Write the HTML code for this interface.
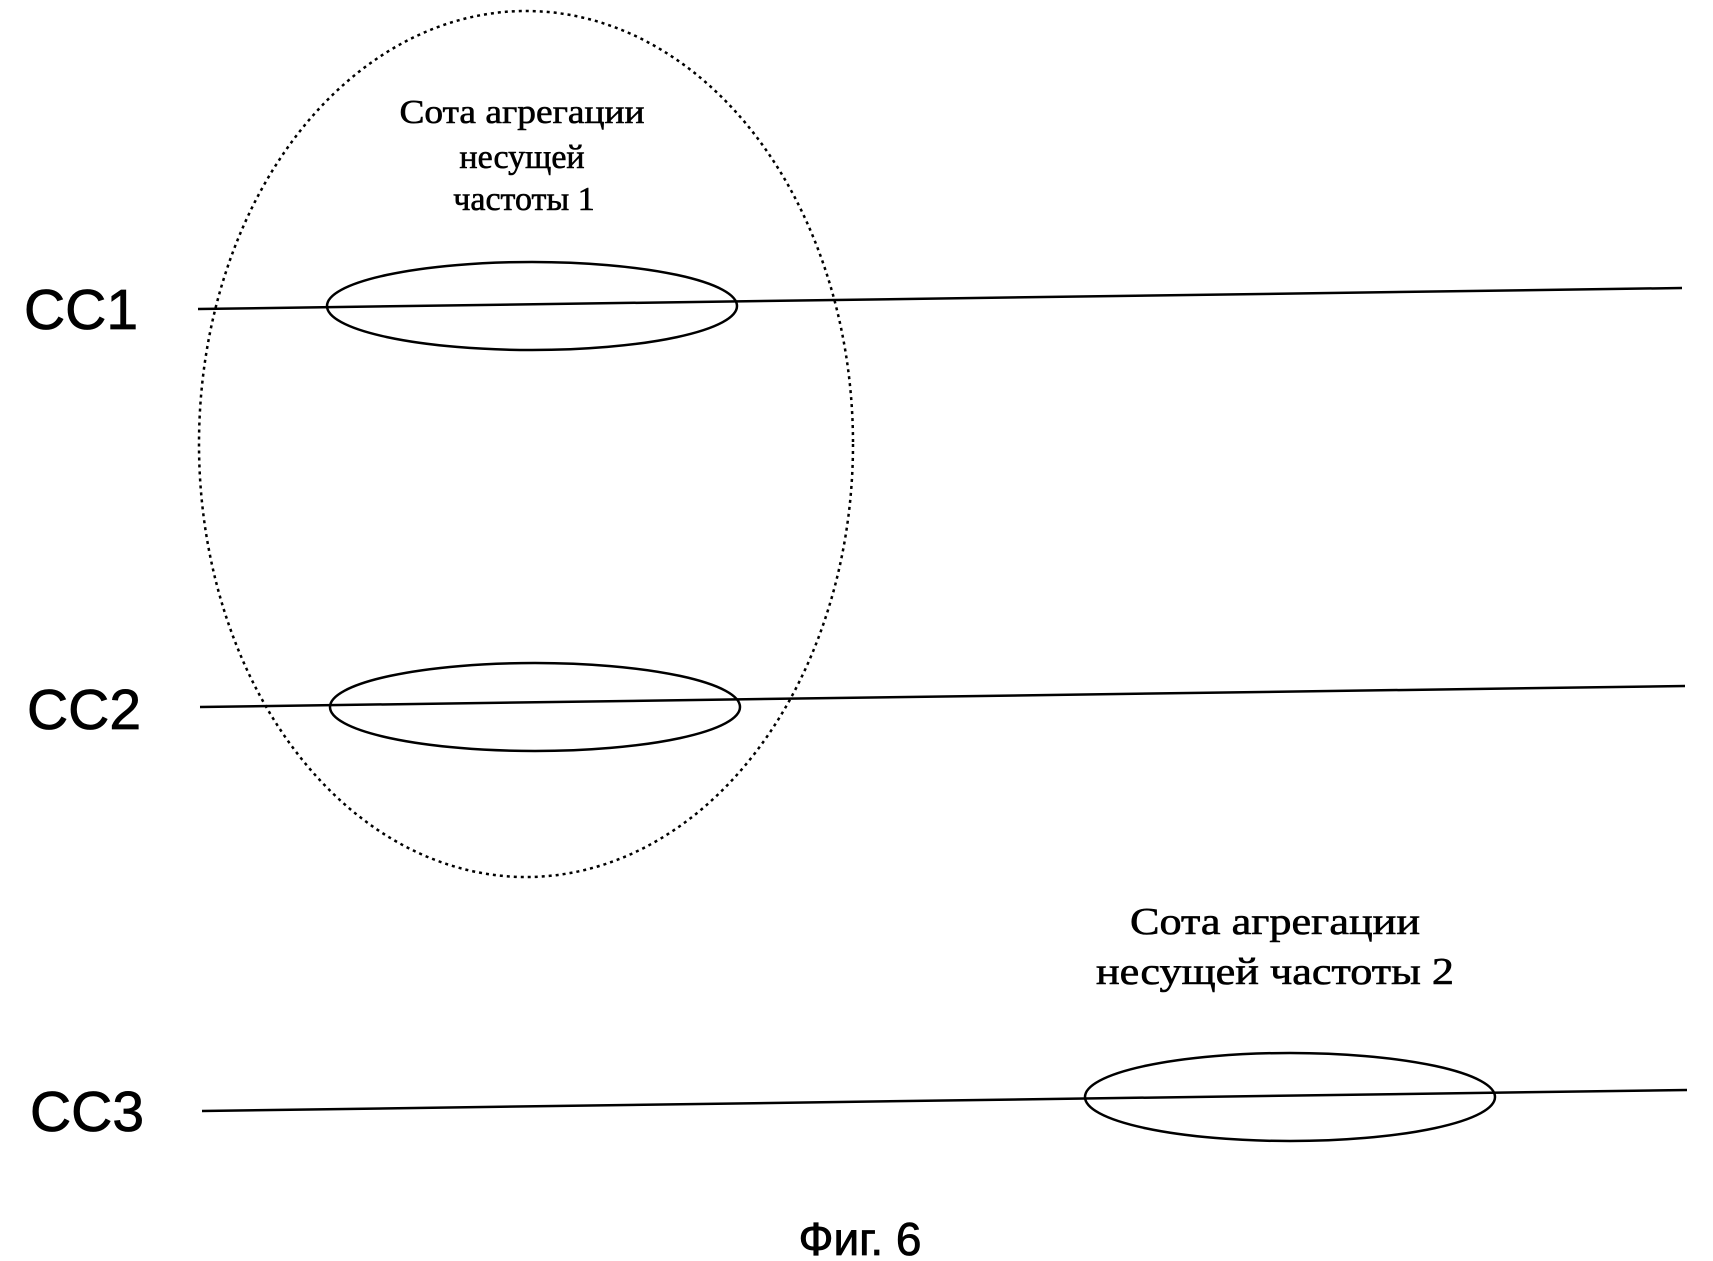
<!DOCTYPE html>
<html><head><meta charset="utf-8"><style>
html,body{margin:0;padding:0;background:#fff;}
svg{display:block;}
</style></head><body>
<svg width="1713" height="1261" viewBox="0 0 1713 1261" xmlns="http://www.w3.org/2000/svg">
<g fill="none" stroke="#000">
<line x1="198" y1="309" x2="1682" y2="288" stroke-width="2.5"/>
<line x1="200" y1="707" x2="1685" y2="686" stroke-width="2.5"/>
<line x1="202" y1="1111" x2="1687" y2="1090" stroke-width="2.5"/>
<ellipse cx="526" cy="444" rx="327" ry="433" stroke-width="2.5" stroke-dasharray="3,4"/>
<ellipse cx="532" cy="306" rx="205" ry="44" stroke-width="2.5"/>
<ellipse cx="535" cy="707" rx="205" ry="44" stroke-width="2.5"/>
<ellipse cx="1290" cy="1097" rx="205" ry="44" stroke-width="2.5"/>
</g>
<g font-family="'Liberation Serif', serif" fill="#000" text-anchor="middle" font-size="34" stroke="#000" stroke-width="0.6">
<text x="522" y="123" textLength="245" lengthAdjust="spacingAndGlyphs">Сота агрегации</text>
<text x="522" y="168">несущей</text>
<text x="524" y="210">частоты 1</text>
<text x="1275" y="934" font-size="38" textLength="290" lengthAdjust="spacingAndGlyphs">Сота агрегации</text>
<text x="1275" y="984" font-size="38" textLength="358" lengthAdjust="spacingAndGlyphs">несущей частоты 2</text>
</g>
<g font-family="'Liberation Sans', sans-serif" fill="#000" font-size="57" stroke="#000" stroke-width="0.8">
<text x="24" y="329">CC1</text>
<text x="27" y="729">CC2</text>
<text x="30" y="1131">CC3</text>
<text x="860" y="1255" font-size="46" text-anchor="middle">Фиг. 6</text>
</g>
</svg>
</body></html>
